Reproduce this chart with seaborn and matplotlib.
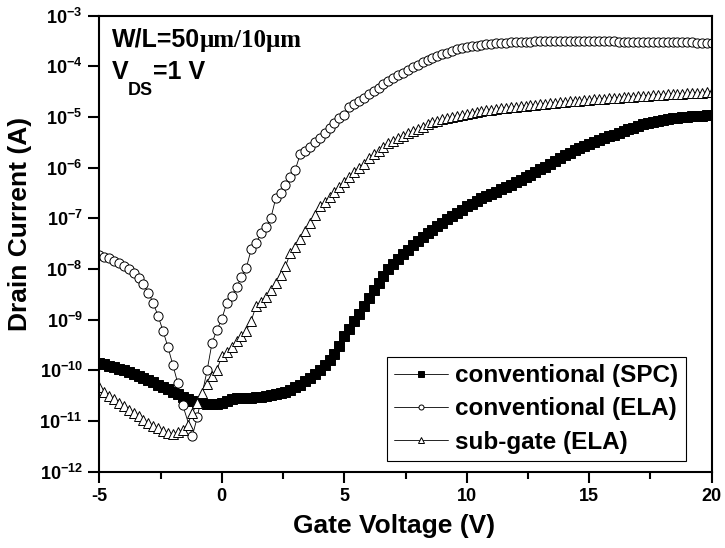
import numpy as np
import pandas as pd
import matplotlib
matplotlib.use("Agg")
import matplotlib.pyplot as plt
from matplotlib.ticker import NullLocator
import seaborn as sns

# gate sweep -5 V .. 20 V, 0.2 V step
gate_voltage = np.round(np.arange(-5.0, 20.01, 0.2), 1)

# log10 of drain current, one value per sweep point
log_id_spc = [
    -9.85, -9.88, -9.91, -9.94, -9.97, -10.00, -10.03, -10.07, -10.11, -10.15,
    -10.19, -10.23, -10.28, -10.32, -10.37, -10.42, -10.47, -10.52, -10.57, -10.60,
    -10.63, -10.65, -10.66, -10.67, -10.66, -10.64, -10.60, -10.57, -10.55, -10.55,
    -10.54, -10.54, -10.53, -10.52, -10.51, -10.49, -10.47, -10.45, -10.42, -10.38,
    -10.33, -10.28, -10.22, -10.15, -10.07, -9.99, -9.90, -9.80, -9.67, -9.51,
    -9.33, -9.18, -9.03, -8.88, -8.73, -8.57, -8.42, -8.27, -8.13, -8.00,
    -7.90, -7.80, -7.71, -7.62, -7.53, -7.45, -7.37, -7.30, -7.23, -7.16,
    -7.09, -7.02, -6.96, -6.89, -6.83, -6.76, -6.71, -6.66, -6.61, -6.56,
    -6.52, -6.48, -6.43, -6.39, -6.34, -6.29, -6.24, -6.19, -6.14, -6.08,
    -6.03, -5.98, -5.92, -5.87, -5.82, -5.76, -5.71, -5.66, -5.61, -5.57,
    -5.53, -5.49, -5.45, -5.42, -5.38, -5.35, -5.31, -5.28, -5.24, -5.21,
    -5.18, -5.15, -5.12, -5.10, -5.08, -5.06, -5.04, -5.03, -5.02, -5.01,
    -5.00, -4.99, -4.98, -4.98, -4.97, -4.97,
]
log_id_ela = [
    -7.73, -7.77, -7.79, -7.85, -7.89, -7.94, -8.00, -8.08, -8.18, -8.30,
    -8.47, -8.67, -8.93, -9.22, -9.54, -9.89, -10.25, -10.68, np.nan, -11.29,
    -10.92, np.nan, -10.00, -9.46, -9.20, -8.99, -8.67, -8.54, -8.36, -8.16,
    -7.98, -7.61, -7.49, -7.30, -7.18, -7.00, -6.61, -6.51, -6.35, -6.19,
    -6.04, -5.74, -5.68, -5.60, -5.50, -5.41, -5.31, -5.21, -5.13, -5.03,
    -4.97, -4.81, -4.74, -4.68, -4.62, -4.55, -4.49, -4.43, -4.36, -4.30,
    -4.24, -4.18, -4.13, -4.07, -4.02, -3.97, -3.92, -3.88, -3.84, -3.80,
    -3.76, -3.73, -3.70, -3.67, -3.65, -3.63, -3.61, -3.60, -3.58, -3.57,
    -3.56, -3.55, -3.54, -3.54, -3.53, -3.53, -3.52, -3.52, -3.52, -3.51,
    -3.51, -3.51, -3.51, -3.51, -3.51, -3.51, -3.51, -3.51, -3.51, -3.51,
    -3.51, -3.51, -3.51, -3.51, -3.51, -3.51, -3.52, -3.52, -3.52, -3.52,
    -3.52, -3.52, -3.52, -3.52, -3.52, -3.52, -3.53, -3.53, -3.53, -3.53,
    -3.53, -3.53, -3.54, -3.54, -3.54, -3.54,
]
log_id_subgate = [
    -10.32, -10.42, -10.50, -10.57, -10.65, -10.71, -10.78, -10.84, -10.91, -10.98,
    -11.04, -11.09, -11.14, -11.19, -11.23, -11.25, -11.22, -11.17, -11.07, -10.84,
    -10.64, -10.44, -10.27, -10.12, -9.99, -9.72, -9.63, -9.53, -9.43, -9.33,
    -9.22, -9.02, -8.73, -8.65, -8.55, -8.42, -8.28, -8.12, -7.95, -7.68,
    -7.56, -7.40, -7.25, -7.10, -6.94, -6.76, -6.68, -6.59, -6.49, -6.39,
    -6.29, -6.19, -6.09, -6.00, -5.92, -5.82, -5.74, -5.68, -5.60, -5.52,
    -5.48, -5.42, -5.37, -5.32, -5.27, -5.23, -5.19, -5.15, -5.11, -5.08,
    -5.05, -5.03, -5.00, -4.98, -4.96, -4.94, -4.92, -4.90, -4.89, -4.87,
    -4.86, -4.85, -4.83, -4.82, -4.81, -4.80, -4.79, -4.78, -4.77, -4.76,
    -4.75, -4.74, -4.73, -4.72, -4.71, -4.70, -4.69, -4.68, -4.68, -4.67,
    -4.66, -4.65, -4.65, -4.64, -4.63, -4.62, -4.62, -4.61, -4.60, -4.60,
    -4.59, -4.58, -4.58, -4.57, -4.57, -4.56, -4.55, -4.55, -4.54, -4.54,
    -4.53, -4.53, -4.52, -4.52, -4.51, -4.51,
]

series_names = ["conventional (SPC)", "conventional (ELA)", "sub-gate (ELA)"]
x_ticks = [-5, 0, 5, 10, 15, 20]
x_minor = [-2.5, 2.5, 7.5, 12.5, 17.5]
y_exps = list(range(-12, -2))

sns.set_style("ticks")
plt.rcParams["font.family"] = ["Liberation Sans", "DejaVu Sans"]
plt.rcParams["font.weight"] = "bold"
plt.rcParams["mathtext.fontset"] = "custom"
plt.rcParams["mathtext.rm"] = "Liberation Sans:bold"
plt.rcParams["mathtext.it"] = "Liberation Sans:bold"
plt.rcParams["mathtext.bf"] = "Liberation Sans:bold"
plt.rcParams["mathtext.default"] = "rm"
plt.rcParams["axes.unicode_minus"] = False
for k in ["axes.edgecolor", "text.color", "axes.labelcolor", "xtick.color", "ytick.color"]:
    plt.rcParams[k] = "black"

frames = []
for name, logs in zip(series_names, [log_id_spc, log_id_ela, log_id_subgate]):
    d = pd.DataFrame({"V": gate_voltage, "logI": logs, "device": name})
    frames.append(d.dropna())
df = pd.concat(frames, ignore_index=True)
df["I"] = 10.0 ** df["logI"]

styles = {
    "conventional (SPC)": dict(marker="s", size=6.6, face="black"),
    "conventional (ELA)": dict(marker="o", size=6.6, face="white"),
    "sub-gate (ELA)": dict(marker="^", size=7.4, face="white"),
}

fig = plt.figure(figsize=(7.25, 5.48), dpi=100)
ax = fig.add_axes([0.137, 0.1392, 0.8447, 0.8325])
ax.set_yscale("log")

for name in series_names:
    sub = df[df["device"] == name]
    st = styles[name]
    sns.lineplot(data=sub, x="V", y="I", ax=ax, color="black", linewidth=0.6,
                 marker=st["marker"], markerfacecolor=st["face"],
                 markeredgecolor="black", markeredgewidth=0.7,
                 estimator=None, sort=False, label=name)
    line = ax.get_lines()[-1]
    line.set_markersize(st["size"])

ax.set_xlim(-5, 20)
ax.set_ylim(1e-12, 1e-3)
ax.set_xticks(x_ticks)
ax.set_xticklabels([str(t) for t in x_ticks])
ax.set_xticks(x_minor, minor=True)
ax.set_yticks([10.0 ** e for e in y_exps])
ax.set_yticklabels([f"$10^{{{e}}}$" for e in y_exps])
ax.yaxis.set_minor_locator(NullLocator())

ax.tick_params(axis="both", which="major", direction="out", length=8, width=1.5,
               labelsize=13, pad=4, top=False, right=False)
ax.tick_params(axis="x", which="minor", direction="out", length=5, width=1.5)
for s in ax.spines.values():
    s.set_visible(True)
    s.set_linewidth(1.5)

ax.set_xlabel("Gate Voltage (V)", fontsize=19, fontweight="bold")
ax.xaxis.set_label_coords(0.481, -0.092)
ax.set_ylabel("Drain Current (A)", fontsize=19, fontweight="bold")
ax.yaxis.set_label_coords(-0.110, 0.544)

# device annotation, top left
t1 = ax.text(0.020, 0.9316, "W/L=50", transform=ax.transAxes, fontsize=18,
             fontweight="bold", va="baseline", ha="left")
ax.annotate("\u03bcm/10\u03bcm", xy=(1, 0), xycoords=t1, va="bottom", ha="left",
            fontsize=18, fontweight="bold", family=["Liberation Serif", "DejaVu Serif"])
t_v = ax.text(0.020, 0.860, "V", transform=ax.transAxes, fontsize=18,
              fontweight="bold", va="baseline", ha="left")
t_ds = ax.annotate("DS", xy=(1.0, 0.825), xycoords=(t_v, ax.transAxes),
                   va="baseline", ha="left", fontsize=13, fontweight="bold")
ax.annotate("=1 V", xy=(1.0, 0.860), xycoords=(t_ds, ax.transAxes),
            va="baseline", ha="left", fontsize=18, fontweight="bold")

leg = ax.legend(loc="lower left", bbox_to_anchor=(0.4698, 0.0235), borderaxespad=0,
                fontsize=17.5, frameon=True, fancybox=False, edgecolor="black",
                framealpha=1, handlelength=2.2, handletextpad=0.3,
                labelspacing=0.42, borderpad=0.3, markerscale=0.55)
leg.get_frame().set_linewidth(0.8)

fig.savefig("out.png", dpi=100)
